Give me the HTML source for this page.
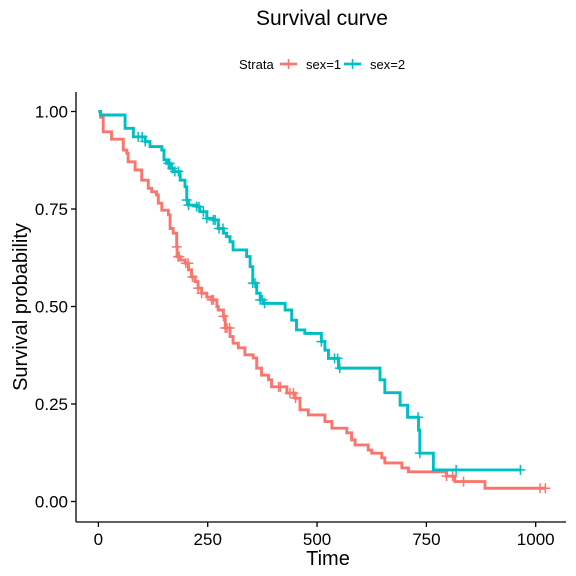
<!DOCTYPE html>
<html><head><meta charset="utf-8"><style>
body{margin:0;background:#fff}
svg{display:block;font-family:"Liberation Sans",Arial,sans-serif}
</style></head><body>
<svg id="chart" width="576" height="576">
<text x="322" y="25" font-size="21" text-anchor="middle">Survival curve</text>
<g>
<text x="239" y="69" font-size="13">Strata</text>
<g><line x1="280" y1="64" x2="297" y2="64" stroke="#F8766D" stroke-width="2.8"/><line x1="288.5" y1="59" x2="288.5" y2="69" stroke="#F8766D" stroke-width="1.5"/><text x="306" y="69" font-size="13">sex=1</text></g>
<g><line x1="344" y1="64" x2="361" y2="64" stroke="#00BFC4" stroke-width="2.8"/><line x1="352.5" y1="59" x2="352.5" y2="69" stroke="#00BFC4" stroke-width="1.5"/><text x="370" y="69" font-size="13">sex=2</text></g>
</g>
<g id="axes"></g>
<g id="plot"></g>
<text x="328" y="565" font-size="20" text-anchor="middle">Time</text>
<text transform="translate(27,307) rotate(-90)" font-size="20" text-anchor="middle">Survival probability</text>
</svg>
<script>
const xTicks=[0,250,500,750,1000];
const yTicks=[0,0.25,0.5,0.75,1];
const yTickLabels=["0.00","0.25","0.50","0.75","1.00"];
const sex1Times=[0,5,11,30,57,65,68,84,99,114,122,133,137,145,160,164,171,179,180,187,198,206,213,221,228,236,248,259,271,274,286,290,301,308,320,335,354,362,373,389,396,431,450,461,480,518,534,568,579,587,617,625,648,655,694,709,796,815,884];
const sex1Surv=[1,0.985,0.948,0.929,0.901,0.893,0.871,0.85,0.824,0.803,0.794,0.786,0.765,0.747,0.735,0.70,0.688,0.653,0.628,0.619,0.611,0.594,0.576,0.564,0.547,0.534,0.524,0.517,0.50,0.491,0.475,0.445,0.423,0.406,0.394,0.376,0.368,0.342,0.324,0.312,0.294,0.278,0.265,0.235,0.222,0.205,0.188,0.176,0.158,0.145,0.132,0.124,0.112,0.099,0.086,0.076,0.065,0.051,0.034];
const sex1End=1022;
const sex1Censor=[179,182,185,200,205,215,228,236,259,263,286,290,294,300,412,416,438,446,451,796,810,835,1010,1022];
const sex2Times=[0,5,61,80,107,118,145,150,156,164,171,187,198,202,206,225,232,248,263,274,286,293,301,308,339,347,353,362,370,377,427,442,453,472,510,518,526,549,644,655,690,707,732,735,766];
const sex2Surv=[1,0.991,0.957,0.935,0.923,0.91,0.901,0.876,0.867,0.854,0.846,0.824,0.807,0.773,0.76,0.756,0.743,0.726,0.722,0.70,0.688,0.679,0.666,0.645,0.628,0.602,0.56,0.534,0.517,0.508,0.491,0.465,0.44,0.431,0.41,0.388,0.367,0.342,0.312,0.279,0.247,0.216,0.183,0.124,0.081];
const sex2End=968;
const sex2Censor=[91,100,107,160,163,169,175,183,202,206,225,230,240,248,263,267,276,285,353,358,370,375,380,510,540,547,552,731,735,818,965];

const X=t=>98.4+t*0.4373, Y=s=>501.5-s*390;
const NS="http://www.w3.org/2000/svg";
function mk(tag,attrs,parent){const e=document.createElementNS(NS,tag);for(const k in attrs)e.setAttribute(k,attrs[k]);parent.appendChild(e);return e;}
const axes=document.getElementById('axes'),plot=document.getElementById('plot');
let a=mk('line',{x1:76,y1:92,x2:76,y2:522,stroke:'#000','stroke-width':1.3},axes);


a=mk('line',{x1:76,y1:522,x2:566,y2:522,stroke:'#000','stroke-width':1.3},axes);


xTicks.forEach(v=>{mk('line',{x1:X(v),y1:522,x2:X(v),y2:527,stroke:'#000','stroke-width':1.3},axes);
 const t=mk('text',{x:X(v),y:545,'font-size':17,'text-anchor':'middle'},axes);t.textContent=v;
 
 });
yTicks.forEach((v,i)=>{mk('line',{x1:71,y1:Y(v),x2:76,y2:Y(v),stroke:'#000','stroke-width':1.3},axes);
 const t=mk('text',{x:68,y:Y(v)+6,'font-size':17,'text-anchor':'end'},axes);t.textContent=yTickLabels[i];
 
 });
function survAt(times,surv,t){let s=surv[0];for(let i=0;i<times.length;i++){if(times[i]<=t)s=surv[i];}return s;}
function draw(times,surv,end,cens,col,name){
 let d='M'+X(times[0])+','+Y(surv[0]);
 for(let i=1;i<times.length;i++){d+='H'+X(times[i])+'V'+Y(surv[i]);}
 d+='H'+X(end);
 const p=mk('path',{d:d,fill:'none',stroke:col,'stroke-width':2.9},plot);
 
 
 cens.forEach(t=>{const x=X(t),y=Y(survAt(times,surv,t));
  const g=mk('path',{d:`M${x-5},${y}H${x+5}M${x},${y-5}V${y+5}`,stroke:col,'stroke-width':1.5},plot);
  
  });
}
draw(sex1Times,sex1Surv,sex1End,sex1Censor,'#F8766D','sex1');
draw(sex2Times,sex2Surv,sex2End,sex2Censor,'#00BFC4','sex2');
</script>
</body></html>
